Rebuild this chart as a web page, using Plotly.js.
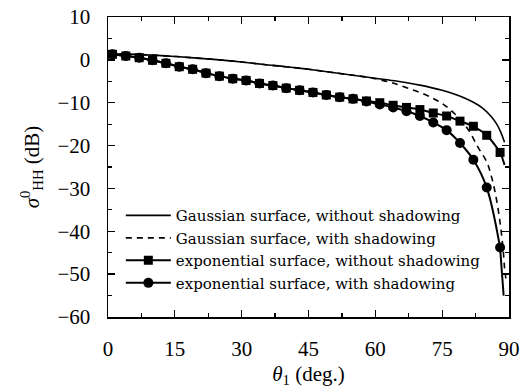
<!DOCTYPE html>
<html>
<head>
<meta charset="utf-8">
<script src="https://cdn.plot.ly/plotly-3.0.1.min.js"></script>
<style>html,body{margin:0;padding:0;background:#fff;}#chart{width:531px;height:391px;}</style>
</head>
<body>
<div id="chart"></div>
<script>
// Gaussian surface curves (smooth lines)
const gaussTheta = [0, 5, 10, 15, 20, 25, 30, 35, 40, 45, 50, 55, 60, 65, 70, 75, 78, 80, 82, 84, 86, 87, 88, 89];
const gaussNoShadow = [1.4, 1.3, 1.1, 0.8, 0.4, 0.0, -0.5, -1.1, -1.6, -2.2, -2.9, -3.6, -4.3, -5.0, -5.9, -7.1, -8.1, -8.9, -9.9, -11.2, -13.2, -14.6, -16.5, -19.2];
const gaussShadowTheta = [0, 5, 10, 15, 20, 25, 30, 35, 40, 45, 50, 55, 58, 60, 62, 64, 67, 70, 73, 75, 77, 79, 81, 83, 85, 86, 87, 88, 88.7, 89, 89.3];
const gaussShadow = [1.4, 1.3, 1.1, 0.8, 0.4, 0.0, -0.5, -1.1, -1.6, -2.2, -2.9, -3.6, -4.0, -4.4, -4.9, -5.4, -6.5, -7.6, -9.0, -10.2, -11.8, -13.9, -16.5, -20.3, -23.8, -27.0, -31.5, -38.0, -44.5, -48.5, -51.0];

// Exponential surface, marker positions
const thetaMarkers = [1, 4, 7, 10, 13, 16, 19, 22, 25, 28, 31, 34, 37, 40, 43, 46, 49, 52, 55, 58, 61, 64, 67, 70, 73, 76, 79, 82, 85, 88];
const expNoShadow = [1.3, 0.9, 0.5, -0.1, -0.8, -1.6, -2.2, -3.1, -3.8, -4.4, -4.8, -5.5, -6.0, -6.6, -7.1, -7.6, -8.2, -8.7, -9.1, -9.6, -10.0, -10.6, -11.1, -11.6, -12.4, -13.1, -14.3, -15.5, -17.6, -21.6];
const expShadow = [1.3, 0.9, 0.5, -0.1, -0.8, -1.6, -2.2, -3.1, -3.8, -4.4, -4.8, -5.5, -6.0, -6.6, -7.1, -7.6, -8.2, -8.7, -9.1, -9.7, -10.4, -11.1, -12.0, -13.1, -14.6, -16.4, -19.4, -23.3, -29.8, -43.8];
// line end segments beyond the markers
const expNoShadowEndTheta = [88, 88.5, 89];
const expNoShadowEnd = [-21.6, -22.9, -24.5];
const expShadowEndTheta = [88, 88.4, 88.8];
const expShadowEnd = [-43.8, -49.5, -55.0];
const expStartTheta = [0, 1];
const expStart = [1.45, 1.3];

const xTicks = [0, 15, 30, 45, 60, 75, 90];
const yTicks = [10, 0, -10, -20, -30, -40, -50, -60];

const FONT = 'Liberation Serif, Times New Roman, serif';
const LFONT = 'DejaVu Serif, serif';
const black = '#000';

const traces = [
  {x: gaussTheta, y: gaussNoShadow, mode: 'lines', line: {color: black, width: 1.6, shape: 'spline'},
   name: 'Gaussian surface, without shadowing'},
  {x: gaussShadowTheta, y: gaussShadow, mode: 'lines', line: {color: black, width: 1.6, dash: '6px,5px', shape: 'spline'},
   name: 'Gaussian surface, with shadowing'},
  {x: thetaMarkers, y: expNoShadow, mode: 'lines+markers', line: {color: black, width: 2, shape: 'spline'},
   marker: {symbol: 'square', size: 9, color: black}, name: 'exponential surface, without shadowing'},
  {x: thetaMarkers, y: expShadow, mode: 'lines+markers', line: {color: black, width: 2, shape: 'spline'},
   marker: {symbol: 'circle', size: 10, color: black}, name: 'exponential surface, with shadowing'},
  {x: expNoShadowEndTheta, y: expNoShadowEnd, mode: 'lines', line: {color: black, width: 2, shape: 'spline'}, showlegend: false},
  {x: expShadowEndTheta, y: expShadowEnd, mode: 'lines', line: {color: black, width: 2, shape: 'spline'}, showlegend: false},
  {x: expStartTheta, y: expStart, mode: 'lines', line: {color: black, width: 2}, showlegend: false}
];

const axisCommon = {
  showgrid: false, zeroline: false, showline: true, linecolor: black, linewidth: 1.5,
  mirror: 'ticks', ticks: 'inside', ticklen: 7, tickwidth: 1.3, tickcolor: black,
  tickfont: {family: FONT, size: 21, color: black}
};

const layout = {
  width: 531, height: 391,
  margin: {l: 108, r: 22, t: 17, b: 74},
  paper_bgcolor: '#fff', plot_bgcolor: '#fff',
  font: {family: FONT, color: black},
  showlegend: true,
  legend: {x: 0.032, y: 0.393, xanchor: 'left', yanchor: 'top', bgcolor: 'rgba(0,0,0,0)',
           font: {family: LFONT, size: 15, color: black}, itemwidth: 45, tracegroupgap: 0},
  xaxis: Object.assign({}, axisCommon, {
    range: [0, 90], tickvals: xTicks, ticktext: xTicks.map(String), ticklabelstandoff: 12,
    minor: {dtick: 7.5, tick0: 0, ticks: 'inside', ticklen: 4, tickwidth: 1.2, tickcolor: black},
    title: {text: '<i>θ</i><sub>1</sub> (deg.)', font: {family: FONT, size: 21, color: black}, standoff: 6}
  }),
  yaxis: Object.assign({}, axisCommon, {
    range: [-60, 10], tickvals: yTicks, ticktext: yTicks.map(v => v < 0 ? '−' + Math.abs(v) : String(v)), ticklabelstandoff: 12,
    minor: {dtick: 5, tick0: 0, ticks: 'inside', ticklen: 4, tickwidth: 1.2, tickcolor: black},
    title: {text: '<i>σ</i><sup>0</sup><sub>HH</sub> (dB)', font: {family: FONT, size: 21, color: black}, standoff: 12}
  })
};

Plotly.newPlot('chart', traces, layout, {displayModeBar: false, staticPlot: true});
</script>
</body>
</html>
